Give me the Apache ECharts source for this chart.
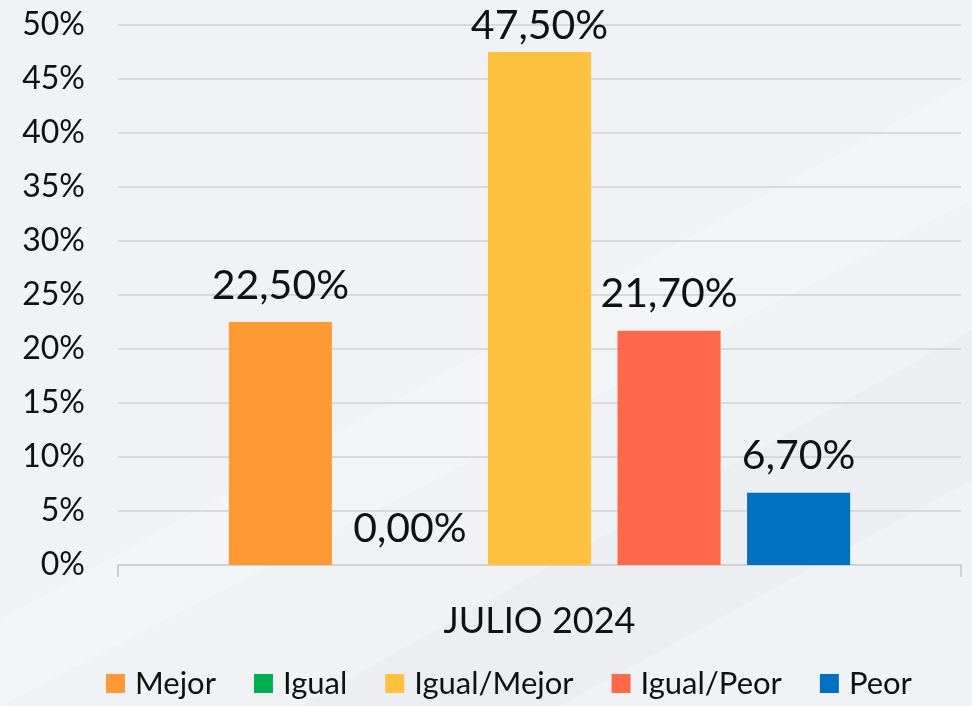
<!DOCTYPE html>
<html>
<head>
<meta charset="utf-8">
<script src="https://cdn.jsdelivr.net/npm/echarts@6/dist/echarts.min.js"></script>
<style>
  html, body { margin: 0; padding: 0; }
  #main { width: 972px; height: 706px; }
</style>
</head>
<body>
<div id="main"></div>
<script>
var categories = ['JULIO 2024'];
var seriesNames = ['Mejor', 'Igual', 'Igual/Mejor', 'Igual/Peor', 'Peor'];
var seriesValues = [22.5, 0.0, 47.5, 21.7, 6.7];
var seriesColors = ['#FF9933', '#00B050', '#FFC13F', '#FF684A', '#0070C0'];

var fontName = 'Lato, "Noto Sans", sans-serif';

// formato con coma decimal
function pct(v) {
  return v.toFixed(2).replace('.', ',') + '%';
}

var series = seriesNames.map(function(name, i) {
  return {
    name: name,
    type: 'bar',
    barGap: '25.7%',
    barCategoryGap: '26.3%',
    itemStyle: { color: seriesColors[i] },
    label: {
      show: true,
      position: 'top',
      // la etiqueta más alta queda más pegada a la barra
      distance: i === 2 ? 6 : 16,
      color: '#111',
      fontFamily: fontName,
      fontSize: 41,
      formatter: function(p) { return pct(p.value); }
    },
    data: [seriesValues[i]]
  };
});

var myChart = echarts.init(document.getElementById('main'));
var option = {
  backgroundColor: '#f1f2f5',
  animation: false,
  graphic: [
    { type: 'polygon', silent: true, z: -10,
      shape: { points: [[0, 620], [972, 80], [972, 200], [0, 706]] },
      style: { fill: 'rgba(255,255,255,0.25)' } },
    { type: 'polygon', silent: true, z: -10,
      shape: { points: [[300, 706], [972, 330], [972, 480], [560, 706]] },
      style: { fill: 'rgba(220,222,228,0.18)' } }
  ],
  grid: { left: 118, right: 11, top: 25, bottom: 141 },
  legend: {
    bottom: 2,
    left: 101,
    icon: 'rect',
    itemWidth: 19,
    itemHeight: 19,
    itemGap: 38,
    textStyle: { fontFamily: fontName, fontSize: 31, color: '#111', padding: [0, 0, 0, 5] },
    data: seriesNames
  },
  xAxis: {
    type: 'category',
    data: categories,
    axisLine: { lineStyle: { color: '#d0d0d0', width: 2 } },
    axisTick: { show: true, length: 12, lineStyle: { color: '#d0d0d0', width: 2 } },
    axisLabel: { margin: 38, fontFamily: fontName, fontSize: 36, color: '#111' }
  },
  yAxis: {
    type: 'value',
    min: 0,
    max: 50,
    interval: 5,
    axisLine: { show: false },
    axisTick: { show: false },
    splitLine: { lineStyle: { color: '#d9d9d9', width: 2 } },
    axisLabel: {
      margin: 33,
      fontFamily: fontName,
      fontSize: 32,
      color: '#111',
      formatter: '{value}%'
    }
  },
  series: series
};
myChart.setOption(option);
</script>
</body>
</html>
